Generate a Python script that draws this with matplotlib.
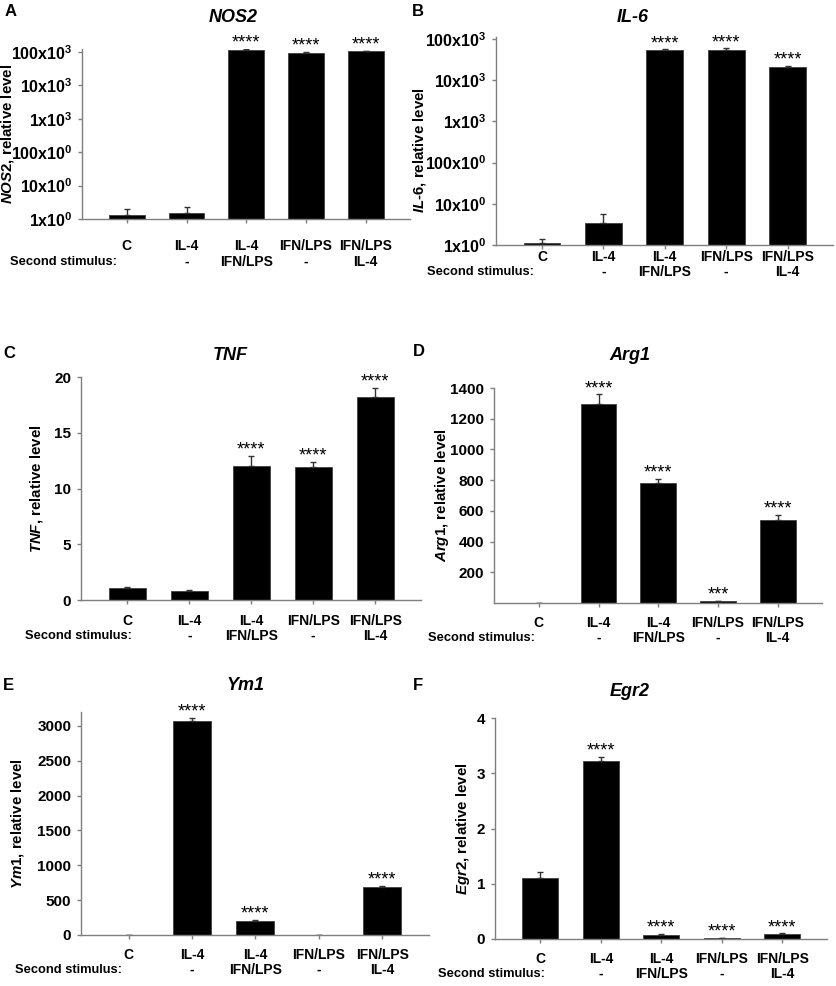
import matplotlib.pyplot as plt
from matplotlib.ticker import FixedLocator, NullLocator

plt.rcParams['font.family'] = ['Liberation Sans', 'DejaVu Sans']
plt.rcParams['font.weight'] = 'bold'
plt.rcParams['mathtext.fontset'] = 'custom'
plt.rcParams['mathtext.rm'] = 'Liberation Sans:bold'
plt.rcParams['mathtext.bf'] = 'Liberation Sans:bold'
plt.rcParams['mathtext.it'] = 'Liberation Sans:italic:bold'
plt.rcParams['mathtext.default'] = 'rm'

# stimulus labels under each bar
first_stim = ["C", "IL-4", "IL-4", "IFN/LPS", "IFN/LPS"]
second_stim = ["", "-", "IFN/LPS", "-", "IL-4"]

# values (mean, upper error)
nos2 = [1.28, 1.52, 117000, 93500, 104000]
nos2_err = [0.66, 0.75, 10000, 6500, 5000]
nos2_sig = ["", "", "****", "****", "****"]

il6 = [1.12, 3.48, 55000, 55000, 20900]
il6_err = [0.25, 2.07, 800, 4000, 800]
il6_sig = ["", "", "****", "****", "****"]

tnf = [1.05, 0.85, 12.06, 11.97, 18.2]
tnf_err = [0.1, 0.03, 0.85, 0.45, 0.8]
tnf_sig = ["", "", "****", "****", "****"]

arg1 = [1, 1295, 782, 11, 543]
arg1_err = [0, 63, 28, 3, 30]
arg1_sig = ["", "****", "****", "***", "****"]

ym1 = [1, 3071, 200, 1, 695]
ym1_err = [0, 48, 10, 0, 10]
ym1_sig = ["", "****", "****", "", "****"]

egr2 = [1.11, 3.22, 0.072, 0.018, 0.09]
egr2_err = [0.10, 0.08, 0.012, 0.004, 0.01]
egr2_sig = ["", "****", "****", "****", "****"]

log_ticks = [1, 10, 100, 1000, 10000, 100000]
log_labels = ["1x10$^{0}$", "10x10$^{0}$", "100x10$^{0}$",
              "1x10$^{3}$", "10x10$^{3}$", "100x10$^{3}$"]

W, H = 836, 986
GRAY = '#7f7f7f'

fig = plt.figure(figsize=(W / 100, H / 100), dpi=100)


def px_axes(l, t, r, b):
    return fig.add_axes([l / W, 1 - b / H, (r - l) / W, (b - t) / H])


def draw_panel(box, letter, letter_xy, gene, title_xy, vals, errs, sig,
               ylim, ticks, labels, log, ylab_x, ylab_y, row1, row2, stim_dx):
    ax = px_axes(*box)
    x = list(range(len(vals)))
    ax.bar(x, vals, width=0.6, color='black', edgecolor='#404040', linewidth=0.6,
           yerr=[[0] * len(errs), errs],
           error_kw=dict(ecolor='#333333', elinewidth=1, capsize=2.5, capthick=1))
    if log:
        ax.set_yscale('log')
    ax.set_xlim(-0.75, 4.74)
    ax.set_ylim(*ylim)
    ax.yaxis.set_major_locator(FixedLocator(ticks))
    ax.yaxis.set_minor_locator(NullLocator())
    ax.set_yticklabels(labels, fontsize=11.5 if log else 11, fontweight='bold')
    ax.set_xticks(x)
    ax.set_xticklabels([""] * len(x))
    for s in ['top', 'right']:
        ax.spines[s].set_visible(False)
    for s in ['left', 'bottom']:
        ax.spines[s].set_color(GRAY)
        ax.spines[s].set_linewidth(1)
    ax.tick_params(axis='both', direction='out', length=3, width=1, color=GRAY, pad=4)

    for i in x:
        if sig[i]:
            ax.annotate(sig[i], (i, vals[i] + errs[i]), xytext=(0, 1),
                        textcoords='offset points', ha='center', va='baseline',
                        fontsize=13, fontweight='normal')
        ax.annotate(first_stim[i], (i, 0), xycoords=('data', 'axes fraction'),
                    xytext=(0, -row1 * 0.72), textcoords='offset points',
                    ha='center', va='center', fontsize=10, fontweight='bold')
        if second_stim[i]:
            ax.annotate(second_stim[i], (i, 0), xycoords=('data', 'axes fraction'),
                        xytext=(0, -row2 * 0.72), textcoords='offset points',
                        ha='center', va='center', fontsize=10, fontweight='bold')
    ax.annotate("Second stimulus:", (0, 0), xycoords=('data', 'axes fraction'),
                xytext=(stim_dx * 0.72, -row2 * 0.72), textcoords='offset points',
                ha='right', va='center', fontsize=9.3, fontweight='bold')

    if gene == "IL-6":
        ylab = "$\\mathit{IL}$-$\\mathit{6}$, relative level"
    else:
        ylab = "$\\mathit{" + gene + "}$, relative level"
    ax.set_ylabel(ylab, fontsize=10.8, fontweight='bold', va='center')
    ax.yaxis.set_label_coords((ylab_x - box[0]) / (box[2] - box[0]), ylab_y)

    fig.text(title_xy[0] / W, 1 - title_xy[1] / H, gene, ha='center', va='center',
             fontsize=13, fontstyle='italic', fontweight='bold')
    fig.text(letter_xy[0] / W, 1 - letter_xy[1] / H, letter, ha='left', va='center',
             fontsize=12, fontweight='bold')
    return ax


draw_panel((82, 49, 410, 219), "A", (5, 12), "NOS2", (233, 18), nos2, nos2_err, nos2_sig,
           (1, 1.23e5), log_ticks, log_labels, True, 8, 0.5, 27, 43, -10)
draw_panel((496, 37, 833, 245), "B", (412, 12), "IL-6", (633, 18), il6, il6_err, il6_sig,
           (1, 1.12e5), log_ticks, log_labels, True, 419, 0.457, 12, 27, -8)
draw_panel((81, 377, 421, 600), "C", (3, 353), "TNF", (230, 355), tnf, tnf_err, tnf_sig,
           (0, 20), [0, 5, 10, 15, 20], ["0", "5", "10", "15", "20"], False, 37, 0.5, 21, 36, 5)
draw_panel((494, 388, 822, 603), "D", (413, 352), "Arg1", (630, 355), arg1, arg1_err, arg1_sig,
           (0, 1400), [200, 400, 600, 800, 1000, 1200, 1400],
           ["200", "400", "600", "800", "1000", "1200", "1400"], False, 442, 0.5, 20, 35, -4)
draw_panel((81, 712, 429, 935), "E", (3, 685), "Ym1", (245, 685), ym1, ym1_err, ym1_sig,
           (0, 3200), [0, 500, 1000, 1500, 2000, 2500, 3000],
           ["0", "500", "1000", "1500", "2000", "2500", "3000"], False, 18, 0.5, 20, 35, -7)
draw_panel((495, 718, 827, 939), "F", (413, 686), "Egr2", (630, 692), egr2, egr2_err, egr2_sig,
           (0, 4), [0, 1, 2, 3, 4], ["0", "1", "2", "3", "4"], False, 463, 0.5, 20, 35, 5)

fig.savefig("out.png", dpi=100, facecolor='white')
